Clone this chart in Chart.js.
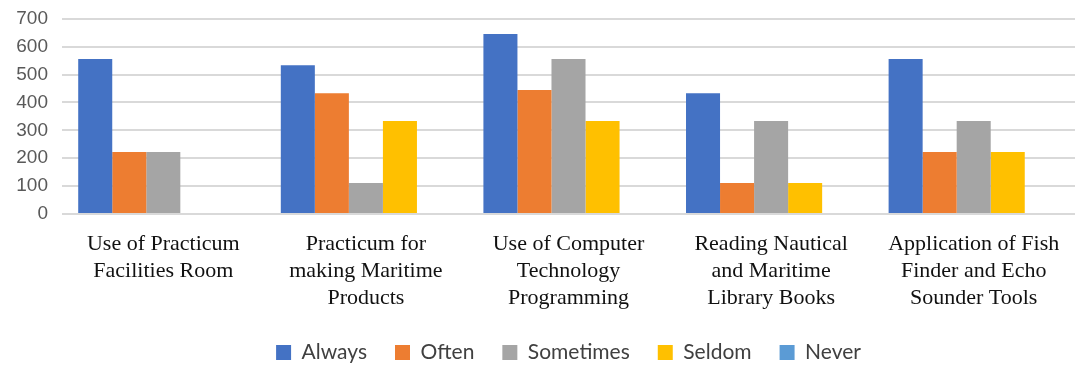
<!DOCTYPE html>
<html>
<head>
<meta charset="utf-8">
<script src="https://cdn.jsdelivr.net/npm/chart.js@4/dist/chart.umd.min.js"></script>
<style>
  html, body { margin: 0; padding: 0; background: #fff; }
  #wrap { width: 1079px; height: 367px; position: relative; }
</style>
</head>
<body>
<div id="wrap"><canvas id="chart"></canvas></div>
<script>
const CATEGORIES = [
  ["Use of Practicum", "Facilities Room"],
  ["Practicum for", "making Maritime", "Products"],
  ["Use of Computer", "Technology", "Programming"],
  ["Reading Nautical", "and Maritime", "Library Books"],
  ["Application of Fish", "Finder and Echo", "Sounder Tools"],
];

const ALWAYS = [556, 533, 645, 433, 556];
const OFTEN = [222, 433, 445, 111, 222];
const SOMETIMES = [222, 111, 556, 333, 333];
const SELDOM = [0, 333, 333, 111, 222];
const NEVER = [0, 0, 0, 0, 0];

const Y_MIN = 0;
const Y_MAX = 700;
const Y_STEP = 100;

const SERIES = [
  { label: "Always", data: ALWAYS, color: "#4472C4" },
  { label: "Often", data: OFTEN, color: "#ED7D31" },
  { label: "Sometimes", data: SOMETIMES, color: "#A5A5A5" },
  { label: "Seldom", data: SELDOM, color: "#FFC000" },
  { label: "Never", data: NEVER, color: "#5B9BD5" },
];

const ctx = document.getElementById("chart").getContext("2d");
new Chart(ctx, {
  type: "bar",
  data: {
    labels: CATEGORIES,
    datasets: SERIES.map((s) => ({
      label: s.label,
      data: s.data,
      backgroundColor: s.color,
      borderWidth: 0,
      categoryPercentage: 0.84,
      barPercentage: 1.0,
    })),
  },
  options: {
    responsive: true,
    maintainAspectRatio: false,
    animation: false,
    layout: { padding: { top: 3, right: 4, left: 0, bottom: -6 } },
    plugins: {
      tooltip: { enabled: false },
      legend: {
        position: "bottom",
        fullSize: false,
        labels: {
          boxWidth: 15,
          boxHeight: 15,
          padding: 28,
          color: "#404040",
          font: { family: "Lato, 'Open Sans', sans-serif", size: 21 },
        },
      },
    },
    scales: {
      x: {
        grid: { display: false, drawTicks: false },
        border: { display: false },
        ticks: {
          color: "#111",
          padding: 17,
          maxRotation: 0,
          autoSkip: false,
          font: { family: "'Liberation Serif', 'Times New Roman', serif", size: 22, lineHeight: 1.23 },
        },
        afterFit: (scale) => { scale.height = 100; },
      },
      y: {
        min: Y_MIN,
        max: Y_MAX,
        grid: { color: "#D9D9D9", lineWidth: 2, drawTicks: false },
        border: { display: false },
        ticks: {
          stepSize: Y_STEP,
          autoSkip: false,
          color: "#595959",
          padding: 14,
          font: { family: "'Liberation Sans', Arial, sans-serif", size: 19, lineHeight: 0.5 },
        },
        afterFit: (scale) => { scale.width = 62; },
      },
    },
  },
});
</script>
</body>
</html>
